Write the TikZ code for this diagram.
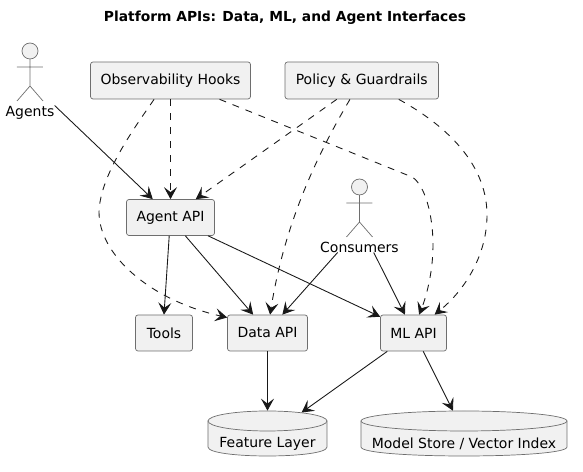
\documentclass[tikz,border=0pt]{standalone}
\usepackage{fontspec}
\setmainfont{DejaVu Sans}
\usetikzlibrary{arrows.meta,shapes.geometric}
\definecolor{umlline}{HTML}{181818}
\definecolor{umlgrey}{HTML}{6E6E6E}
\definecolor{umlfill}{HTML}{F1F1F1}
\tikzset{
  box/.style={draw=umlgrey, fill=umlfill, line width=0.4pt, rounded corners=0.05cm, inner sep=0pt, font=\fontsize{7.95}{10}\selectfont},
  storetop/.style={draw=umlgrey, fill=umlfill, line width=0.4pt, shape=ellipse, inner sep=0pt, minimum height=0.4cm},
  storetext/.style={inner sep=0pt, font=\fontsize{7.95}{10}\selectfont},
  actorlabel/.style={inner sep=0pt, text height=5.8pt, text depth=0pt, font=\fontsize{7.95}{10}\selectfont},
  flow/.style={-{Stealth[length=2.4mm,width=2.6mm,inset=1mm]}, draw=umlline, line width=0.5pt},
  dep/.style={flow, dash pattern=on 3.97pt off 3.97pt}
}
\begin{document}
\begin{tikzpicture}[x=0.02cm, y=-0.02cm]
        \useasboundingbox (0,0) rectangle (583,472);

        % Title
        \node[font=\bfseries\fontsize{7.87}{10}\selectfont, inner sep=0pt] (title) at (285,18) {Platform APIs: Data, ML, and Agent Interfaces};

        % Top boxes
        \node[box, minimum width=3.2cm, minimum height=0.74cm] (obs) at (170.5,80.5) {Observability Hooks};
        \node[box, minimum width=3.07cm, minimum height=0.74cm] (policy) at (361.75,80.5) {Policy \& Guardrails};

        % APIs
        \node[box, minimum width=1.76cm, minimum height=0.72cm] (agentapi) at (170.5,217.5) {Agent API};
        \node[box, minimum width=1.14cm, minimum height=0.72cm] (tools) at (164,333) {Tools};
        \node[box, minimum width=1.6cm, minimum height=0.72cm] (dataapi) at (267.5,333) {Data API};
        \node[box, minimum width=1.32cm, minimum height=0.72cm] (mlapi) at (413.5,333) {ML API};

        % Stores
        \draw[draw=umlgrey, fill=umlfill, line width=0.4pt] (208,421) -- (208,447) .. controls (208,459) and (327,459) .. (327,447) -- (327,421) -- cycle;
        \node[storetop, minimum width=2.38cm] (feature) at (267.5,421) {};
        \node[storetext] (featurelabel) at (267.5,444) {Feature Layer};
        \draw[draw=umlgrey, fill=umlfill, line width=0.4pt] (361,421) -- (361,447) .. controls (361,459) and (567,459) .. (567,447) -- (567,421) -- cycle;
        \node[storetop, minimum width=4.12cm] (model) at (464,421) {};
        \node[storetext] (modellabel) at (464,444) {Model Store / Vector Index};

        % Actors
        \foreach \ax/\ay in {30/51, 359.5/187} {
            \draw[umlgrey, fill=umlfill, line width=0.4pt] (\ax,\ay) circle (0.16cm);
            \draw[umlgrey, line width=0.4pt] (\ax,\ay+8) -- (\ax,\ay+35) (\ax-13,\ay+16) -- (\ax+13,\ay+16)
                (\ax-13,\ay+50) -- (\ax,\ay+35) -- (\ax+13,\ay+50);
        }
        \node[actorlabel] (agents) at (30,111) {Agents};
        \node[actorlabel] (consumers) at (359.5,247) {Consumers};

        % Solid arrows
        \draw[flow] (agents.north east) -- (agentapi.134.2);
        \draw[flow] (agentapi.-94.8) -- (tools.north);
        \draw[flow] (agentapi.-51.1) -- (dataapi.128.9);
        \draw[flow] (agentapi.-26.3) -- (mlapi.154.1);
        \draw[flow] (consumers.-166.7) -- (dataapi.51.1);
        \draw[flow] (consumers.-21.8) -- (mlapi.115.3);
        \draw[flow] (dataapi.south) -- (feature.north);
        \draw[flow] (mlapi.-145.8) -- (feature.14.5);
        \draw[flow] (mlapi.-62.2) -- (model.137.9);

        % Dashed arrows
        \draw[dep] (obs.south) -- (agentapi.north);
        \draw[dep] (obs.-131.7) .. controls (135,127) and (100,175) .. (99,212) .. controls (99,255) and (150,300) .. (dataapi.159.4);
        \draw[dep] (obs.-21.7) -- (412,177) .. controls (425,185) and (433,215) .. (433,245) .. controls (433,275) and (425,300) .. (mlapi.73);
        \draw[dep] (policy.-143.2) -- (agentapi.36.3);
        \draw[dep] (policy.-122.4) .. controls (320,150) and (285,220) .. (dataapi.82.1);
        \draw[dep] (policy.-27.7) .. controls (440,122) and (487,160) .. (487,215) .. controls (487,255) and (465,290) .. (mlapi.41.3);
    \end{tikzpicture}
\end{document}
